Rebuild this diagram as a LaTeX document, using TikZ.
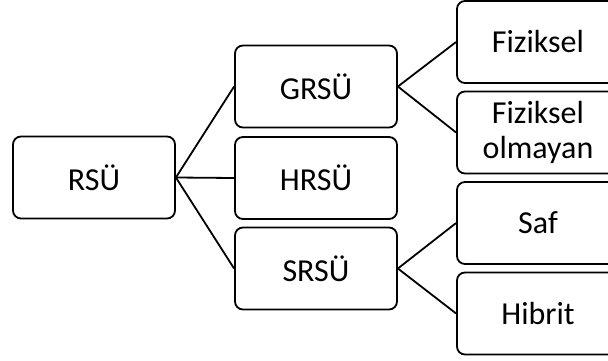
\documentclass[tikz,border=0pt]{standalone}
\usepackage{fontspec}
\setmainfont{Carlito}
\begin{document}
\begin{tikzpicture}[x=1pt,y=1pt,
  box/.style={draw=black,line width=1.8pt,rounded corners=8pt,minimum width=162pt,minimum height=82pt,inner sep=0pt,align=center,font=\fontsize{32}{35}\selectfont},
  conn/.style={line width=1.8pt}]
\useasboundingbox (0,0) rectangle (608,360);
\clip (0,0) rectangle (608,360);
\node[box] (rsu) at (94,182.5) {RSÜ};
\node[box] (g) at (316,273.5) {GRSÜ};
\node[box] (h) at (316,182) {HRSÜ};
\node[box] (s) at (316,91.5) {SRSÜ};
\node[box] (f1) at (538,318) {Fiziksel};
\node[box] (f2) at (538,227.5) {Fiziksel\\olmayan};
\node[box] (sa) at (538,137) {Saf};
\node[box] (hi) at (538,46.5) {Hibrit};
\coordinate (r0) at (rsu.east);
\draw[conn] (r0) -- (g.west);
\draw[conn] (r0) -- (h.west);
\draw[conn] (r0) -- (s.west);
\draw[conn] (g.east) -- (f1.west);
\draw[conn] (g.east) -- (f2.west);
\draw[conn] (s.east) -- (sa.west);
\draw[conn] (s.east) -- (hi.west);
\end{tikzpicture}
\end{document}
